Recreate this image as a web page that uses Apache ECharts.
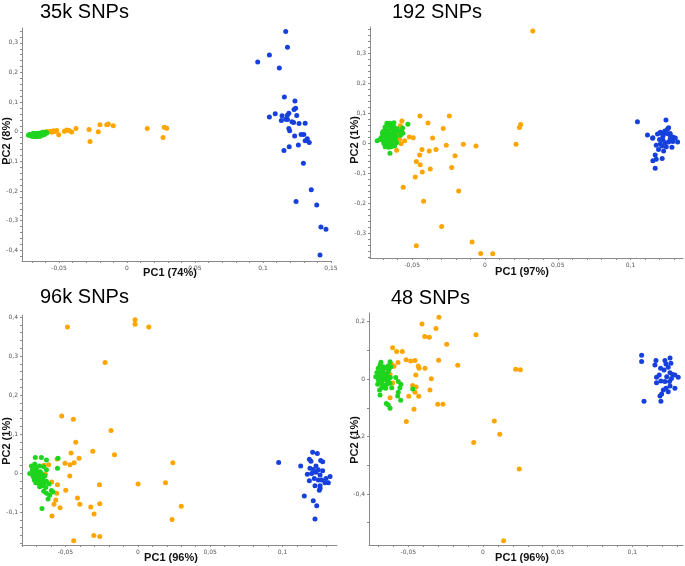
<!DOCTYPE html>
<html><head><meta charset="utf-8">
<script src="https://cdn.jsdelivr.net/npm/echarts@6/dist/echarts.min.js"></script>
<style>html,body{margin:0;padding:0;background:#fff}#c{width:685px;height:566px}</style>
</head><body><div id="c"></div><script>
// ---------- titles ----------
const panelTitles = ['35k SNPs', '192 SNPs', '96k SNPs', '48 SNPs'];
const xNames = ['PC1 (74%)', 'PC1 (97%)', 'PC1 (96%)', 'PC1 (96%)'];
const yNames = ['PC2 (8%)', 'PC2 (1%)', 'PC2 (1%)', 'PC2 (1%)'];

// ---------- tick labels ----------
const xTicks1 = [-0.05, 0, 0.05, 0.1, 0.15];
const xTicks2 = [-0.05, 0, 0.05, 0.1];
const xTicks3 = [-0.05, 0, 0.05, 0.1];
const xTicks4 = [-0.05, 0, 0.05, 0.1];
const yTicks1 = [-0.4, -0.3, -0.2, -0.1, 0, 0.1, 0.2, 0.3];
const yTicks2 = [-0.3, -0.2, -0.1, 0, 0.1, 0.2, 0.3];
const yTicks3 = [-0.1, 0, 0.1, 0.2, 0.3, 0.4];
const yTicks4 = [-0.4, -0.2, 0, 0.2];

// ---------- panel 1: 35k SNPs ----------
const p1Orange = [[-0.0603,-0.001],[-0.0585,0.000],[-0.0566,0.001],[-0.0555,-0.002],[-0.0542,0.003],[-0.0530,0.001],[-0.0517,0.004],[-0.0502,-0.010],[-0.0461,0.002],[-0.0443,0.006],[-0.0426,0.004],[-0.0407,-0.001],[-0.0375,0.011],[-0.0279,0.008],[-0.0211,0.000],[-0.0199,0.024],[-0.0149,0.024],[-0.0137,0.026],[-0.0101,0.020],[0.0149,0.011],[0.0274,0.015],[0.0292,0.012],[0.0265,-0.019],[-0.0272,-0.033]];
const p1Green = [[-0.0725,-0.012],[-0.0718,-0.009],[-0.071,-0.013],[-0.0705,-0.010],[-0.070,-0.015],[-0.0695,-0.008],[-0.069,-0.012],[-0.0685,-0.016],[-0.068,-0.010],[-0.0675,-0.006],[-0.067,-0.013],[-0.0665,-0.009],[-0.066,-0.015],[-0.0655,-0.005],[-0.065,-0.011],[-0.0645,-0.007],[-0.064,-0.013],[-0.0635,-0.004],[-0.063,-0.009],[-0.0625,-0.012],[-0.062,-0.002],[-0.0615,-0.007],[-0.061,-0.010],[-0.0605,-0.003],[-0.060,-0.006],[-0.0595,-0.001],[-0.059,-0.004],[-0.0668,-0.017],[-0.0688,-0.005],[-0.0642,-0.016]];
const p1Blue = [[0.1167,0.338],[0.118,0.285],[0.1047,0.259],[0.0961,0.235],[0.112,0.215],[0.1157,0.117],[0.1235,0.104],[0.1047,0.050],[0.109,0.061],[0.114,0.054],[0.1179,0.056],[0.119,0.062],[0.1228,0.075],[0.124,0.079],[0.1135,0.038],[0.1167,0.042],[0.118,0.041],[0.1213,0.034],[0.1225,0.031],[0.1248,0.055],[0.1265,0.028],[0.131,0.029],[0.119,0.011],[0.1196,0.003],[0.128,-0.009],[0.130,-0.009],[0.1233,-0.014],[0.1326,-0.024],[0.134,-0.036],[0.131,-0.030],[0.1193,-0.051],[0.126,-0.045],[0.1154,-0.063],[0.1297,-0.106],[0.1355,-0.196],[0.1243,-0.235],[0.1395,-0.247],[0.1426,-0.321],[0.1463,-0.329],[0.1419,-0.416]];

// ---------- panel 2: 192 SNPs ----------
const p2Orange = [[0.0328,0.374],[-0.0447,0.090],[-0.0245,0.090],[-0.0392,0.067],[-0.0287,0.049],[0.0245,0.062],[0.0236,0.052],[-0.0571,0.074],[-0.0582,0.058],[-0.0573,0.044],[-0.0570,0.038],[-0.0630,0.032],[-0.0595,0.032],[-0.0520,0.020],[-0.0493,0.018],[-0.0360,0.017],[-0.0610,0.019],[-0.0587,0.013],[-0.0552,0.008],[-0.0576,-0.002],[-0.0607,-0.024],[-0.0266,-0.007],[-0.0149,-0.004],[-0.0062,-0.010],[0.0213,-0.004],[-0.0433,-0.021],[-0.0383,-0.026],[-0.0337,-0.021],[-0.0449,-0.040],[-0.0206,-0.042],[-0.0472,-0.061],[-0.0445,-0.072],[-0.0229,-0.081],[-0.0376,-0.086],[-0.0431,-0.096],[-0.0479,-0.113],[-0.0181,-0.160],[-0.0562,-0.147],[-0.0422,-0.194],[-0.0298,-0.278],[-0.0089,-0.330],[-0.0472,-0.342],[-0.0030,-0.368],[0.0053,-0.369]];
const p2Green = [[-0.0674,0.066],[-0.0653,0.066],[-0.0637,0.063],[-0.0626,0.068],[-0.0530,0.063],[-0.0686,0.054],[-0.0658,0.057],[-0.0640,0.054],[-0.0621,0.052],[-0.0690,0.043],[-0.0672,0.041],[-0.0649,0.046],[-0.0626,0.043],[-0.0603,0.048],[-0.0704,0.032],[-0.0679,0.032],[-0.0662,0.034],[-0.0640,0.030],[-0.0617,0.034],[-0.0576,0.039],[-0.0564,0.033],[-0.0713,0.019],[-0.0690,0.023],[-0.0672,0.021],[-0.0653,0.019],[-0.0633,0.021],[-0.0610,0.021],[-0.0580,0.026],[-0.0741,0.008],[-0.0722,0.012],[-0.0699,0.008],[-0.0676,0.010],[-0.0656,0.006],[-0.0635,0.010],[-0.0612,0.006],[-0.0695,-0.001],[-0.0672,-0.003],[-0.0653,-0.001],[-0.0631,-0.004],[-0.0607,0.001],[-0.0686,-0.012],[-0.0662,-0.014],[-0.0644,-0.012],[-0.0621,-0.010],[-0.0653,-0.034],[-0.0589,0.039],[-0.0566,0.050],[-0.0702,0.038]];
const p2Blue = [[0.1047,0.071],[0.1243,0.077],[0.1261,0.051],[0.1254,0.047],[0.1204,0.036],[0.1227,0.034],[0.1272,0.032],[0.1116,0.027],[0.1153,0.018],[0.1185,0.030],[0.1295,0.019],[0.1151,0.016],[0.1208,0.034],[0.1222,0.023],[0.1250,0.032],[0.1284,0.021],[0.1307,0.017],[0.1323,0.004],[0.1199,0.012],[0.1222,0.010],[0.1238,0.001],[0.1204,-0.003],[0.1261,0.004],[0.1290,0.005],[0.1176,-0.007],[0.1215,-0.010],[0.1245,-0.012],[0.1284,-0.014],[0.1192,-0.021],[0.1227,-0.026],[0.1169,-0.040],[0.1153,-0.059],[0.1176,-0.054],[0.1217,-0.051],[0.1169,-0.084],[0.1272,0.014],[0.1270,0.027],[0.1235,0.040]];

// ---------- panel 3: 96k SNPs ----------
const p3Orange = [[-0.0486,0.374],[-0.0019,0.393],[-0.0019,0.381],[0.0076,0.374],[-0.0226,0.283],[-0.0526,0.146],[-0.0445,0.138],[-0.0185,0.109],[-0.0429,0.079],[-0.0311,0.056],[-0.0461,0.051],[-0.0161,0.047],[-0.0406,0.038],[-0.0558,0.036],[0.0242,0.026],[-0.0503,0.025],[-0.0468,0.021],[-0.0440,0.026],[-0.0648,0.020],[-0.0616,0.021],[-0.0470,-0.008],[-0.0265,-0.030],[0.0002,-0.028],[0.0191,-0.025],[-0.0595,-0.023],[-0.0555,-0.030],[-0.0498,-0.044],[-0.0560,-0.052],[-0.0417,-0.064],[-0.0567,-0.069],[-0.0401,-0.080],[-0.0263,-0.079],[-0.0579,-0.080],[-0.0537,-0.089],[-0.0325,-0.087],[0.0300,-0.085],[-0.0302,-0.105],[-0.0593,-0.110],[0.0237,-0.119],[-0.0304,-0.160],[-0.0263,-0.163],[-0.0443,-0.174],[-0.0638,-0.003]];
const p3Green = [[-0.0708,0.040],[-0.0666,0.040],[-0.0631,0.033],[-0.0551,0.038],[-0.0735,0.018],[-0.0712,0.023],[-0.0701,0.016],[-0.0678,0.018],[-0.0650,0.016],[-0.0631,0.008],[-0.0728,0.008],[-0.0712,0.009],[-0.0696,0.006],[-0.0673,0.003],[-0.0747,-0.001],[-0.0719,-0.001],[-0.0701,-0.004],[-0.0682,-0.001],[-0.0659,-0.004],[-0.0643,-0.008],[-0.0724,-0.009],[-0.0705,-0.011],[-0.0687,-0.009],[-0.0668,-0.013],[-0.0715,-0.018],[-0.0696,-0.016],[-0.0678,-0.020],[-0.0655,-0.016],[-0.0631,-0.021],[-0.0705,-0.025],[-0.0687,-0.026],[-0.0664,-0.026],[-0.0645,-0.025],[-0.0613,-0.028],[-0.0678,-0.035],[-0.0655,-0.033],[-0.0636,-0.037],[-0.0597,-0.045],[-0.0586,-0.049],[-0.0650,-0.047],[-0.0631,-0.052],[-0.0609,-0.057],[-0.0662,-0.091],[-0.0555,0.012],[-0.0620,-0.067]];
const p3Blue = [[0.0973,0.027],[0.1208,0.053],[0.1240,0.050],[0.1185,0.035],[0.1196,0.030],[0.1263,0.032],[0.1277,0.029],[0.1231,0.018],[0.1125,0.018],[0.1189,0.012],[0.1212,0.009],[0.1247,0.008],[0.1277,0.006],[0.1171,-0.003],[0.1201,-0.001],[0.1231,0.002],[0.1259,-0.005],[0.1328,-0.009],[0.1185,-0.020],[0.1219,-0.014],[0.1247,-0.018],[0.1270,-0.018],[0.1300,-0.014],[0.1316,-0.025],[0.1224,-0.033],[0.1259,-0.033],[0.1254,-0.044],[0.1259,-0.040],[0.1150,-0.059],[0.1212,-0.071],[0.1236,-0.084],[0.1224,-0.118],[0.1293,-0.025]];

// ---------- panel 4: 48 SNPs ----------
const p4Orange = [[-0.0295,0.215],[-0.0408,0.191],[-0.0315,0.176],[-0.0390,0.148],[-0.0359,0.145],[-0.0047,0.154],[-0.0243,0.121],[-0.0605,0.109],[-0.0578,0.096],[-0.0540,0.096],[-0.0515,0.067],[-0.0484,0.063],[-0.0455,0.064],[-0.0297,0.065],[-0.0569,0.057],[-0.0596,0.044],[-0.0433,0.045],[-0.0428,0.037],[-0.0388,0.037],[-0.0169,0.048],[0.0219,0.034],[0.0250,0.032],[-0.0654,0.038],[-0.0622,0.016],[-0.0450,0.014],[-0.0346,0.001],[-0.0605,-0.014],[-0.0471,-0.023],[-0.0448,-0.028],[-0.0355,-0.038],[-0.0455,-0.046],[-0.0497,-0.060],[-0.0430,-0.060],[-0.0622,-0.065],[-0.0303,-0.088],[-0.0268,-0.088],[-0.0462,-0.105],[-0.0513,-0.148],[0.0076,-0.146],[0.0112,-0.192],[-0.0062,-0.221],[0.0243,-0.313],[0.0138,-0.563],[-0.0611,0.051]];
const p4Green = [[-0.0683,0.058],[-0.0622,0.060],[-0.0689,0.049],[-0.0667,0.043],[-0.0634,0.046],[-0.0616,0.043],[-0.0701,0.037],[-0.0678,0.031],[-0.0656,0.037],[-0.0629,0.034],[-0.0710,0.023],[-0.0689,0.020],[-0.0667,0.023],[-0.0651,0.016],[-0.0634,0.025],[-0.0718,0.008],[-0.0696,0.012],[-0.0678,0.007],[-0.0661,0.005],[-0.0638,0.009],[-0.0620,0.005],[-0.0701,-0.003],[-0.0678,-0.007],[-0.0656,-0.003],[-0.0634,-0.007],[-0.0705,-0.018],[-0.0683,-0.015],[-0.0665,-0.021],[-0.0643,-0.018],[-0.0622,-0.015],[-0.0678,-0.030],[-0.0651,-0.032],[-0.0692,-0.038],[-0.0584,0.005],[-0.0567,-0.009],[-0.0549,-0.018],[-0.0556,-0.030],[-0.0647,-0.085],[-0.0634,-0.090],[-0.0622,-0.102],[-0.0567,-0.046],[-0.0571,-0.059],[-0.0551,-0.074],[-0.0611,-0.030],[-0.0689,-0.056],[-0.0470,-0.035]];
const p4Blue = [[0.1062,0.083],[0.1062,0.061],[0.1158,0.064],[0.1218,0.064],[0.1252,0.073],[0.1151,0.049],[0.1189,0.037],[0.1225,0.052],[0.1240,0.041],[0.1258,0.055],[0.1180,0.014],[0.1212,0.031],[0.1252,0.022],[0.1285,0.014],[0.1307,0.006],[0.1162,0.006],[0.1230,0.008],[0.1262,0.002],[0.1191,-0.007],[0.1218,-0.009],[0.1249,-0.009],[0.1162,-0.013],[0.1252,-0.024],[0.1225,-0.032],[0.1285,-0.032],[0.1207,-0.038],[0.1240,-0.044],[0.1196,-0.052],[0.1185,-0.059],[0.1078,-0.077],[0.1191,-0.077],[0.1270,0.016]];

// ---------- layout / style ----------
const COLORS = { orange: '#ffa500', green: '#1ed41e', blue: '#1640dc' };
const grids = [
  { left: 22,  top: 28,  width: 309, height: 233 },
  { left: 370, top: 27,  width: 313, height: 231 },
  { left: 22,  top: 315, width: 315, height: 230 },
  { left: 369, top: 313, width: 314, height: 232 }
];
const xRanges = [[-0.0772, 0.15], [-0.079, 0.136], [-0.080, 0.1376], [-0.0763, 0.1339]];
const yRanges = [[-0.436, 0.35], [-0.383, 0.387], [-0.1846, 0.405], [-0.5774, 0.2296]];
const xMinorStep = [0.01, 0.01, 0.01, 0.01];
const yMinorStep = [0.02, 0.02, 0.02, 0.1];
const xTicks = [xTicks1, xTicks2, xTicks3, xTicks4];
const yTicks = [yTicks1, yTicks2, yTicks3, yTicks4];
const data = [
  [p1Orange, p1Green, p1Blue],
  [p2Orange, p2Green, p2Blue],
  [p3Orange, p3Green, p3Blue],
  [p4Orange, p4Green, p4Blue]
];
const titlePos = [[40, 12], [392, 12], [40, 297], [391, 298]];
const xNamePos = [[170, 273], [522, 272], [171, 558], [522, 558]];
const yNamePos = [[7, 141], [355, 140], [7, 441], [355, 440]];

function minorTicks(range, step) {
  const out = [];
  const start = Math.ceil(range[0] / step - 1e-9);
  const end = Math.floor(range[1] / step + 1e-9);
  for (let i = start; i <= end; i++) out.push(Math.round(i * step * 10000) / 10000);
  return out;
}
function fmt(v) {
  if (Math.abs(v) < 1e-9) return '0';
  return String(Math.round(v * 100) / 100).replace('.', ',');
}
const axisCommon = {
  type: 'value',
  splitLine: { show: false },
  axisLine: { show: true, onZero: false, lineStyle: { color: '#8a8a8a', width: 1 } },
  axisTick: { show: true, length: 2, lineStyle: { color: '#8a8a8a' } },
  axisLabel: { fontSize: 6, color: '#555', margin: 4, formatter: fmt, fontFamily: 'DejaVu Sans' }
};

const option = {
  animation: false,
  backgroundColor: '#fff',
  grid: grids.map(g => Object.assign({ containLabel: false, outerBoundsMode: 'none' }, g)),
  xAxis: grids.map((g, i) => ({
    ...axisCommon, gridIndex: i, min: xRanges[i][0], max: xRanges[i][1],
    axisTick: { ...axisCommon.axisTick, customValues: minorTicks(xRanges[i], xMinorStep[i]) },
    axisLabel: { ...axisCommon.axisLabel, customValues: xTicks[i] }
  })),
  yAxis: grids.map((g, i) => ({
    ...axisCommon, gridIndex: i, min: yRanges[i][0], max: yRanges[i][1],
    axisTick: { ...axisCommon.axisTick, customValues: minorTicks(yRanges[i], yMinorStep[i]) },
    axisLabel: { ...axisCommon.axisLabel, customValues: yTicks[i] }
  })),
  series: [],
  graphic: []
};
const names = ['orange', 'green', 'blue'];
data.forEach((d, i) => {
  d.forEach((pts, k) => {
    option.series.push({
      type: 'scatter', xAxisIndex: i, yAxisIndex: i, data: pts,
      symbolSize: 5, itemStyle: { color: COLORS[names[k]], opacity: 1 },
      emphasis: { disabled: true }
    });
  });
  option.graphic.push({
    type: 'text', x: titlePos[i][0], y: titlePos[i][1],
    style: { text: panelTitles[i], fontSize: 20, fontFamily: 'Liberation Sans', fill: '#000',
             textAlign: 'left', textVerticalAlign: 'middle' }
  });
  option.graphic.push({
    type: 'text', x: xNamePos[i][0], y: xNamePos[i][1],
    style: { text: xNames[i], fontSize: 11, fontWeight: 'bold', fontFamily: 'Liberation Sans', fill: '#111',
             textAlign: 'center', textVerticalAlign: 'middle' }
  });
  option.graphic.push({
    type: 'text', x: yNamePos[i][0], y: yNamePos[i][1], rotation: Math.PI / 2,
    style: { text: yNames[i], fontSize: 11, fontWeight: 'bold', fontFamily: 'Liberation Sans', fill: '#111',
             textAlign: 'center', textVerticalAlign: 'middle' }
  });
});

const chart = echarts.init(document.getElementById('c'), null, { renderer: 'canvas' });
chart.setOption(option);
</script></body></html>
